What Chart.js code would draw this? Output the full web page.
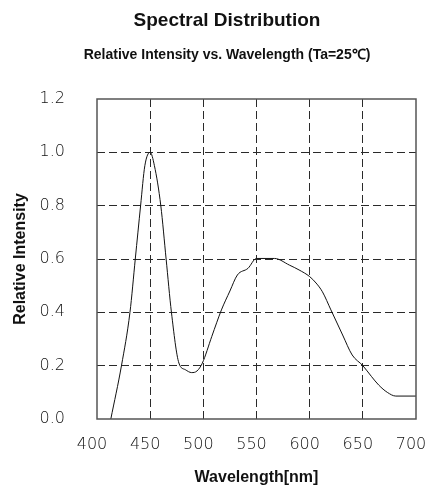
<!DOCTYPE html>
<html>
<head>
<meta charset="utf-8">
<script src="https://cdn.jsdelivr.net/npm/chart.js@4.4.1/dist/chart.umd.min.js"></script>
<style>
  html, body { margin: 0; padding: 0; background: #fff; }
  #wrap { width: 427px; height: 495px; }
</style>
</head>
<body>
<div id="wrap"><canvas id="spec" width="427" height="495"></canvas></div>
<script>
// spectrum
const wavelengths = [413, 423, 431, 436, 441, 445, 450, 454, 460, 465, 470, 477, 483, 489, 494, 499, 508, 517, 525, 532, 542, 550, 567, 581, 590, 600, 606, 612, 620, 631, 640, 650, 658, 665, 673, 681, 700];
const intensity   = [0.0, 0.2, 0.4, 0.6, 0.8, 0.95, 1.0, 0.95, 0.8, 0.6, 0.4, 0.21, 0.185, 0.174, 0.18, 0.209, 0.31, 0.409, 0.48, 0.54, 0.565, 0.602, 0.602, 0.577, 0.559, 0.534, 0.51, 0.477, 0.409, 0.315, 0.24, 0.2, 0.16, 0.127, 0.1, 0.086, 0.086];
const xTicks = [400, 450, 500, 550, 600, 650, 700];
const yTicks = [0, 0.2, 0.4, 0.6, 0.8, 1.0, 1.2];

const titleText = 'Spectral Distribution';
const subtitleText = 'Relative Intensity vs. Wavelength (Ta=25\u2103)';

const points = wavelengths.map((w, i) => ({ x: w, y: intensity[i] }));

const tickFont = { family: 'DejaVu Sans', size: 16, weight: 200 };
const boldFont = { family: '"Liberation Sans", Arial', size: 16, weight: 'bold' };

// solid frame round the plot area + the two headings (centred a bit right of the canvas middle)
const frame = {
  id: 'frame',
  afterDatasetsDraw(chart) {
    const a = chart.chartArea, c = chart.ctx;
    c.save();
    c.strokeStyle = '#555';
    c.lineWidth = 1.5;
    c.strokeRect(a.left, a.top, a.right - a.left, a.bottom - a.top);
    c.restore();
  },
  afterDraw(chart) {
    const c = chart.ctx;
    c.save();
    c.fillStyle = '#111';
    c.textAlign = 'center';
    c.textBaseline = 'middle';
    c.font = 'bold 19px "Liberation Sans", Arial';
    c.fillText(titleText, 227, 21);
    c.font = 'bold 14px "Liberation Sans Narrow", "Liberation Sans", Arial';
    c.fillText(subtitleText, 227, 55);
    c.restore();
  }
};

// inner grid only, edges are done by the frame
const gridColor = (ctx, list) => {
  const v = ctx.tick && ctx.tick.value;
  return (v === list[0] || v === list[list.length - 1]) ? 'rgba(0,0,0,0)' : '#2a2a2a';
};

new Chart(document.getElementById('spec').getContext('2d'), {
  type: 'line',
  data: {
    datasets: [{
      data: points,
      borderColor: '#111',
      borderWidth: 1,
      pointRadius: 0,
      cubicInterpolationMode: 'monotone',
      fill: false
    }]
  },
  options: {
    responsive: false,
    animation: false,
    layout: { padding: { left: 0, right: 11, top: 99, bottom: 0 } },
    plugins: {
      legend: { display: false },
      tooltip: { enabled: false },
      title: { display: false }
    },
    scales: {
      x: {
        type: 'linear',
        min: 400,
        max: 700,
        afterBuildTicks: s => { s.ticks = xTicks.map(v => ({ value: v })); },
        afterFit: s => { s.height = 76; s.paddingLeft = 0; s.paddingRight = 0; },
        ticks: { color: '#111', font: tickFont, padding: 16, labelOffset: -5, maxRotation: 0 },
        grid: { color: ctx => gridColor(ctx, xTicks), drawTicks: false },
        border: { display: false, dash: [8, 4] },
        title: { display: true, text: 'Wavelength[nm]', color: '#111', font: boldFont, padding: { top: 6, bottom: 8 } }
      },
      y: {
        min: 0,
        max: 1.2,
        afterBuildTicks: s => { s.ticks = yTicks.map(v => ({ value: v })); },
        afterFit: s => { s.width = 97; s.paddingTop = 0; s.paddingBottom = 0; },
        ticks: { color: '#111', font: tickFont, padding: 32, callback: v => v.toFixed(1) },
        grid: { color: ctx => gridColor(ctx, yTicks), drawTicks: false },
        border: { display: false, dash: [8, 4] },
        title: { display: true, text: 'Relative Intensity', color: '#111', font: boldFont, padding: { top: 11, bottom: 0 } }
      }
    }
  },
  plugins: [frame]
});
</script>
</body>
</html>
